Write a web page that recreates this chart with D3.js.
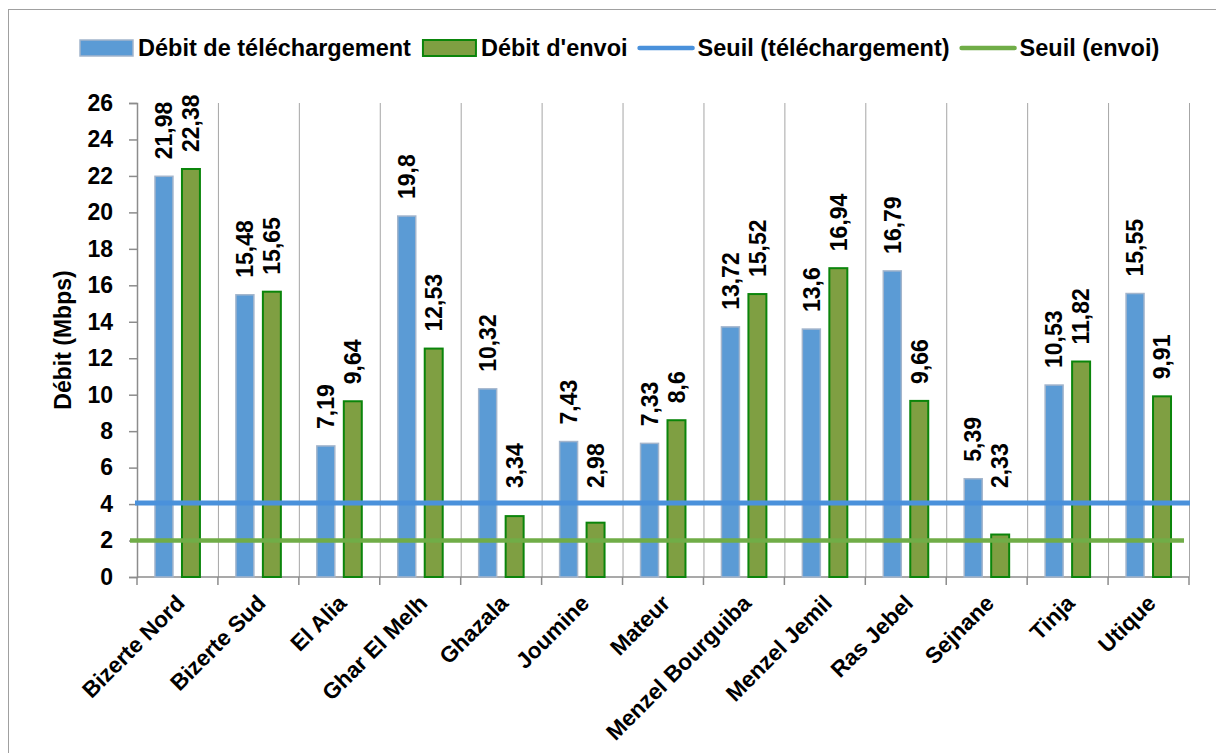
<!DOCTYPE html>
<html>
<head>
<meta charset="utf-8">
<script src="https://cdn.jsdelivr.net/npm/d3@7"></script>
<style>
  body { margin: 0; background: #fff; }
  svg text { font-family: "Liberation Sans", Arial, sans-serif; font-weight: bold; fill: #000; }
</style>
</head>
<body>
<script>
var cats = ["Bizerte Nord", "Bizerte Sud", "El Alia", "Ghar El Melh", "Ghazala", "Joumine",
            "Mateur", "Menzel Bourguiba", "Menzel Jemil", "Ras Jebel", "Sejnane", "Tinja", "Utique"];
var debitDown = [21.98, 15.48, 7.19, 19.8, 10.32, 7.43, 7.33, 13.72, 13.6, 16.79, 5.39, 10.53, 15.55];
var debitUp = [22.38, 15.65, 9.64, 12.53, 3.34, 2.98, 8.6, 15.52, 16.94, 9.66, 2.33, 11.82, 9.91];
var seuilDown = 4;
var seuilUp = 2;
var yTicks = [0, 2, 4, 6, 8, 10, 12, 14, 16, 18, 20, 22, 24, 26];
var legendNames = ["Débit de téléchargement", "Débit d'envoi", "Seuil (téléchargement)", "Seuil (envoi)"];

var w = 1216, h = 753,
    pLeft = 137, pRight = 1189, pTop = 103, pBottom = 577;

var blue = "#5b9bd5", blueEdge = "#a3b5cc",
    olive = "#7f9f42", oliveEdge = "#0b850b",
    blueLine = "#4a91db", greenLine = "#70ad47",
    grid = "#a6a6a6", axisCol = "#8c8c8c";

var svg = d3.select("body").append("svg")
    .attr("width", w)
    .attr("height", h);

// outer frame
svg.append("rect")
    .attr("x", 8.5).attr("y", 9.5)
    .attr("width", w + 20).attr("height", h + 20)
    .attr("fill", "none").attr("stroke", "#a0a0a0");

var x = d3.scaleBand().domain(cats).range([pLeft, pRight]);
var xs = d3.scaleBand().domain(["down", "up"]).range([0, x.bandwidth()])
    .paddingInner(1 / 3).paddingOuter(2 / 3);
var y = d3.scaleLinear().domain([0, 26]).range([pBottom, pTop]);

// vertical gridlines at category boundaries
var bounds = cats.map(function (c) { return x(c); }).concat([pRight]);
svg.append("g").selectAll("line")
    .data(bounds.slice(1))
    .enter().append("line")
    .attr("x1", function (d) { return d + 0.5; })
    .attr("x2", function (d) { return d + 0.5; })
    .attr("y1", pTop).attr("y2", pBottom)
    .attr("stroke", grid).attr("stroke-width", 1);

// y axis
var yAxis = svg.append("g")
    .attr("transform", "translate(" + pLeft + ",0)")
    .call(d3.axisLeft(y).tickValues(yTicks).tickSize(8).tickPadding(16));
yAxis.select(".domain").attr("stroke", axisCol).attr("stroke-width", 1.5);
yAxis.selectAll(".tick line").attr("stroke", axisCol).attr("stroke-width", 1.5);
yAxis.selectAll(".tick text").style("font-size", "23px");

// x axis line + boundary ticks
svg.append("line")
    .attr("x1", pLeft).attr("x2", pRight)
    .attr("y1", pBottom).attr("y2", pBottom)
    .attr("stroke", axisCol).attr("stroke-width", 1.5);
svg.append("g").selectAll("line")
    .data(bounds)
    .enter().append("line")
    .attr("x1", function (d) { return d; })
    .attr("x2", function (d) { return d; })
    .attr("y1", pBottom).attr("y2", pBottom + 8)
    .attr("stroke", axisCol).attr("stroke-width", 1.5);

// bars
var series = [
    { key: "down", vals: debitDown, fill: blue, edge: blueEdge, sw: 1.5 },
    { key: "up", vals: debitUp, fill: olive, edge: oliveEdge, sw: 2 }
];
series.forEach(function (s) {
    svg.append("g").selectAll("rect")
        .data(s.vals)
        .enter().append("rect")
        .attr("x", function (d, i) { return x(cats[i]) + xs(s.key); })
        .attr("y", function (d) { return y(d); })
        .attr("width", xs.bandwidth())
        .attr("height", function (d) { return pBottom - y(d); })
        .attr("fill", s.fill)
        .attr("stroke", s.edge)
        .attr("stroke-width", s.sw);
});

// threshold lines
svg.append("line")
    .attr("x1", pLeft - 2).attr("x2", pRight + 1)
    .attr("y1", y(seuilDown) - 1).attr("y2", y(seuilDown) - 1)
    .attr("stroke", blueLine).attr("stroke-width", 5);
svg.append("line")
    .attr("x1", pLeft - 7).attr("x2", pRight - 5)
    .attr("y1", y(seuilUp)).attr("y2", y(seuilUp))
    .attr("stroke", greenLine).attr("stroke-width", 4.5);

// data labels (kept clear of the download threshold line)
series.forEach(function (s) {
    svg.append("g").selectAll("text")
        .data(s.vals)
        .enter().append("text")
        .attr("transform", function (d, i) {
            var cx = x(cats[i]) + xs(s.key) + xs.bandwidth() / 2;
            var by = Math.min(y(d) - 17, y(seuilDown) - 16);
            return "translate(" + cx + "," + by + ")rotate(-90)";
        })
        .attr("dy", "0.36em")
        .style("font-size", "23px")
        .text(function (d) { return String(d).replace(".", ","); });
});

// category labels
svg.append("g").selectAll("text")
    .data(cats)
    .enter().append("text")
    .attr("transform", function (d) {
        return "translate(" + (x(d) + x.bandwidth() / 2 + 3) + "," + (pBottom + 22) + ")rotate(-45)";
    })
    .attr("text-anchor", "end")
    .attr("dy", "0.35em")
    .style("font-size", "22.5px")
    .text(function (d) { return d; });

// y title
svg.append("text")
    .attr("transform", "translate(63," + ((pTop + pBottom) / 2) + ")rotate(-90)")
    .attr("text-anchor", "middle")
    .attr("dy", "0.35em")
    .style("font-size", "23px")
    .text("Débit (Mbps)");

// legend
var lg = svg.append("g");
var lx = 80, ly = 48;
legendNames.forEach(function (name, i) {
    if (i < 2) {
        lg.append("rect")
            .attr("x", lx).attr("y", ly - 8)
            .attr("width", 53).attr("height", 16)
            .attr("fill", i === 0 ? blue : olive)
            .attr("stroke", i === 0 ? blueEdge : oliveEdge)
            .attr("stroke-width", i === 0 ? 1.5 : 2);
    } else {
        lg.append("line")
            .attr("x1", lx).attr("x2", lx + 53)
            .attr("y1", ly).attr("y2", ly)
            .attr("stroke", i === 2 ? blueLine : greenLine)
            .attr("stroke-width", 4.5)
            .attr("stroke-linecap", "round");
    }
    var t = lg.append("text")
        .attr("x", lx + 58).attr("y", ly)
        .attr("dy", "0.36em")
        .style("font-size", "23.5px")
        .text(name);
    lx += 58 + t.node().getComputedTextLength() + 12;
});
</script>
</body>
</html>
